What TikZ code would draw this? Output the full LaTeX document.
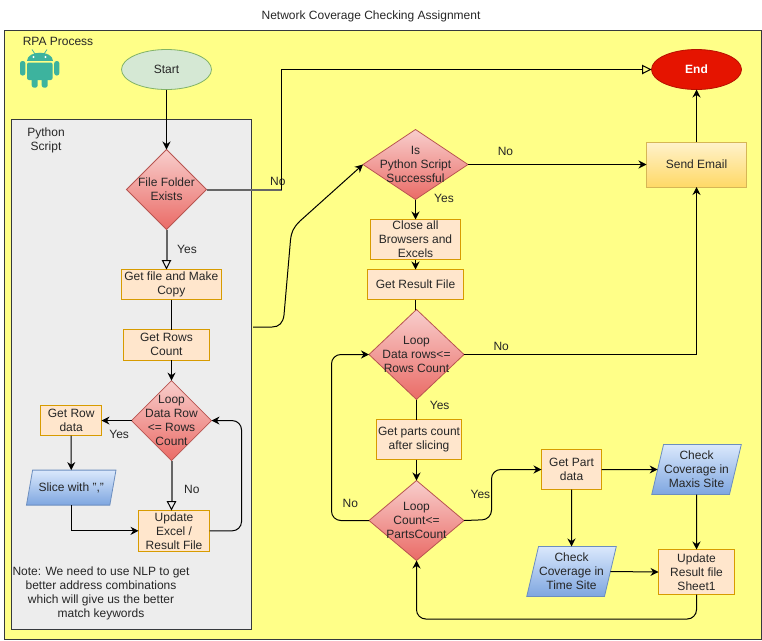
\documentclass[tikz,border=0pt]{standalone}
\usepackage{fontspec}
\setmainfont{Liberation Sans}
\usetikzlibrary{shapes.geometric,arrows.meta}
\usetikzlibrary{positioning}
\definecolor{androidgreen}{HTML}{3DB39E}
\definecolor{rpafill}{HTML}{FFFF88}
\definecolor{boxfill}{HTML}{FFE6CC}
\definecolor{boxline}{HTML}{D79B00}
\definecolor{redtop}{HTML}{F8CECC}
\definecolor{redbottom}{HTML}{EA6B66}
\definecolor{redline}{HTML}{B85450}
\definecolor{bluetop}{HTML}{DAE8FC}
\definecolor{bluebottom}{HTML}{7EA6E0}
\definecolor{blueline}{HTML}{6C8EBF}
\definecolor{goldtop}{HTML}{FFF2CC}
\definecolor{goldbottom}{HTML}{FFD966}
\definecolor{goldline}{HTML}{D6B656}
\definecolor{startfill}{HTML}{D5E8D4}
\definecolor{startline}{HTML}{82B366}
\definecolor{endfill}{HTML}{E51400}
\definecolor{frameline}{HTML}{36393D}
\tikzset{base node/.style={align=center, inner sep=0pt, outer sep=0pt, font=\fontsize{9}{10.5}\selectfont, text=black!85}}
\tikzset{process/.style={base node, draw=boxline, line width=0.75pt, fill=boxfill, rectangle}}
\tikzset{decision/.style={base node, draw=redline, line width=0.6pt, diamond, top color=redtop, bottom color=redbottom}}
\tikzset{data/.style={base node, draw=blueline, line width=0.6pt, trapezium, trapezium stretches=true, top color=bluetop, bottom color=bluebottom}}
\tikzset{terminal/.style={base node, ellipse, minimum width=67.5pt, minimum height=30pt}}
\tikzset{label text/.style={base node}}
\tikzset{conn/.style={draw=black, line width=0.75pt, -{Stealth[length=6pt,width=6pt]}}}
\tikzset{plain conn/.style={draw=black, line width=0.75pt}}
\tikzset{open conn/.style={draw=black, line width=0.75pt, -{Triangle[open,length=7pt,width=7pt,color=black,line width=0.75pt]}}}
\tikzset{gray conn/.style={draw=black!60, line width=1.5pt}}
\tikzset{gray open conn/.style={gray conn, -{Triangle[open,length=7pt,width=7pt,color=black,line width=0.75pt]}}}
\newcommand{\dtext}[1]{\makebox[0pt]{\smash{\raisebox{-3.2pt}{\begin{tabular}{@{}c@{}}#1\end{tabular}}}}}

\begin{document}
\begin{tikzpicture}[x=0.75pt, y=-0.75pt]
\useasboundingbox (0,0) rectangle (762,640);
\node[label text] (title) at (371,16.7) {Network Coverage Checking Assignment};
\node[draw=frameline, fill=rpafill, line width=0.75pt, minimum width=568pt, minimum height=456.75pt, outer sep=0pt] (rpa) at (382.75,334.5) {};
\node[draw=frameline, fill=black!7, line width=0.75pt, minimum width=180pt, minimum height=382.5pt, outer sep=0pt] (script) at (131.5,374.5) {};
\node[label text] (rpalabel) at (58,41) {RPA Process};
\node[label text] (scriptlabel) at (46,140) {Python\\Script};

\fill[androidgreen] (27,61) .. controls (27,50) and (52.6,50) .. (52.6,61) -- cycle;
\fill[androidgreen, rounded corners=1.5pt] (27,62.5) rectangle (52.6,80);
\fill[androidgreen, rounded corners=1.8pt] (20,61) rectangle (25.4,75.5);
\fill[androidgreen, rounded corners=1.8pt] (54.2,61) rectangle (59.4,75.5);
\fill[androidgreen, rounded corners=1.8pt] (31.7,76) rectangle (37.7,87.7);
\fill[androidgreen, rounded corners=1.8pt] (41.7,76) rectangle (47.7,87.7);
\draw[androidgreen, line width=0.6pt] (32,49.5) -- (35,54);
\draw[androidgreen, line width=0.6pt] (47,49.5) -- (44,54);
\fill[white] (33.5,57) circle (1.2);
\fill[white] (45.5,57) circle (1.2);

\node[terminal, draw=startline, line width=0.6pt, fill=startfill] (start) at (166.5,69.5) {Start};
\node[decision, minimum width=60pt, minimum height=60pt, below=45pt of start] (file) {\dtext{File Folder\\Exists}};
\node[process, minimum width=75.4pt, minimum height=22.5pt, below=30pt of file, xshift=3.6pt] (getfile) {Get file and Make\\Copy};
\node[process, minimum width=64.5pt, minimum height=22.9pt, below=22.5pt of getfile, xshift=-3.6pt] (getrows) {Get Rows\\Count};
\node[decision, minimum width=60pt, minimum height=60pt, below=15.4pt of getrows, xshift=3.75pt] (loop) {\dtext{Loop\\Data Row\\<= Rows\\Count}};
\node[process, minimum width=45.4pt, minimum height=22.5pt, left=22.5pt of loop] (getrow) {Get Row\\data};
\node[data, trapezium left angle=63, trapezium right angle=117, minimum width=67.5pt, minimum height=26.25pt, below=25.9pt of getrow] (slice) {Slice with ","};
\node[process, minimum width=53.25pt, minimum height=30.4pt, below=37.5pt of loop, xshift=1.9pt] (update) {Update\\Excel /\\Result File};
\node[label text] (note) at (101,593) {Note: We need to use NLP to get\\better address combinations\\which will give us the better\\match keywords};

\node[decision, minimum width=78.75pt, minimum height=52.5pt] (pycheck) at (415.5,164.5) {\dtext{Is\\Python Script\\Successful}};
\node[process, minimum width=67.5pt, minimum height=30pt, below=15pt of pycheck] (close) {Close all\\Browsers and\\Excels};
\node[process, minimum width=72pt, minimum height=22.5pt, below=7.5pt of close] (result) {Get Result File};
\node[decision, minimum width=71.25pt, minimum height=67.5pt, below=7.5pt of result, xshift=0.75pt] (loopb) {\dtext{Loop\\Data rows<=\\Rows Count}};
\node[process, minimum width=63.75pt, minimum height=30pt, below=15pt of loopb, xshift=1.9pt] (parts) {Get parts count\\after slicing};
\node[decision, minimum width=71.25pt, minimum height=60pt, below=15.75pt of parts, xshift=-1.9pt] (count) {\dtext{Loop\\Count<=\\PartsCount}};
\node[process, minimum width=45pt, minimum height=30pt] (part) at (571.5,469.5) {Get Part\\data};
\node[data, trapezium left angle=72.5, trapezium right angle=107.5, minimum width=67.5pt, minimum height=37.5pt] (maxis) at (696.5,469.5) {Check\\Coverage in\\Maxis Site};
\node[data, trapezium left angle=72.5, trapezium right angle=107.5, minimum width=67.5pt, minimum height=37.5pt] (time) at (571.5,571.5) {Check\\Coverage in\\Time Site};
\node[process, minimum width=57pt, minimum height=33.75pt] (resultb) at (696.5,572) {Update\\Result file\\Sheet1};
\node[base node, draw=goldline, line width=0.6pt, top color=goldtop, bottom color=goldbottom, minimum width=75pt, minimum height=33.75pt] (send) at (696.5,164.5) {Send Email};
\node[terminal, draw=endfill!80!black, line width=0.6pt, fill=endfill, text=white, font=\fontsize{9}{10.5}\selectfont\bfseries] (end) at (696.5,69.5) {End};

\coordinate (corner) at (281.5,189.5);
\coordinate (scriptout) at (253,327);
\coordinate (loopback) at (696.5,619);
\coordinate (bendp) at (491.5,519.5);

\draw[conn] (start) -- (file);
\draw[gray conn] (file.east) -- node[label text, above=3pt, pos=0.95] (nofile) {No} (corner);
\draw[open conn] (corner) |- (end.west);
\draw[gray open conn] (file.south) -- node[label text, right=8pt] (yesfile) {Yes} (file.south|-getfile.north);
\draw[plain conn] (getfile.south-|loop) -- (getrows.north-|loop);
\draw[conn] (getrows.south-|loop) -- (loop.north);
\draw[conn] (loop.west) -- node[label text, below=7.5pt, xshift=2pt] (yesloop) {Yes} (getrow.east);
\draw[conn] (getrow) -- (slice);
\draw[conn] (slice.south-|getrow) |- (update.west);
\draw[gray open conn] (loop.south) -- node[label text, right=9.5pt, yshift=-3pt] (noloop) {No} (loop.south|-update.north);
\draw[conn, rounded corners=7pt] (update.east) -- ++(32,0) |- (loop.east);

\draw[conn] (scriptout) -- (272,327) .. controls (279,327) and (283,323) .. (284,315) -- (290.5,240) .. controls (291.5,232) and (293,228) .. (300,221) -- (pycheck.west);
\draw[conn] (pycheck.east) -- node[label text, above=6.5pt, pos=0.21] (nopy) {No} (send.west);
\draw[conn] (pycheck.south) -- node[label text, pos=0, right=14pt, yshift=1pt] (yespy) {Yes} (close.north);
\draw[conn] (close.south) -- (result.north);
\draw[plain conn] (result.south) -- (result.south|-loopb.north);
\draw[conn] (loopb.east) -| node[label text, above=3pt, pos=0.08] (noloopb) {No} (send.south);
\draw[plain conn] (loopb.south) -- node[label text, right=10pt, yshift=3pt] (yesloopb) {Yes} (loopb.south|-parts.north);
\draw[conn] (parts.south-|count) -- (count.north);
\draw[conn, rounded corners=7pt] (count.west) -- node[label text, above=10pt] (nocount) {No} ++(-37.5,0) |- (loopb.west);
\draw[conn, rounded corners=7pt] (count.east) -- (bendp) -- node[label text, left=1pt] (yescount) {Yes} (bendp|-part) -- (part.west);
\draw[conn] (part.east) -- (maxis.west);
\draw[conn] (part.south) -- (time.north);
\draw[conn] (maxis.south) -- (resultb.north);
\draw[conn] (time.east) -- (resultb.west);
\draw[conn, rounded corners=7pt] (resultb.south) -- (loopback) -| (count.south);
\draw[conn] (send.north) -- (end.south);
\end{tikzpicture}
\end{document}
